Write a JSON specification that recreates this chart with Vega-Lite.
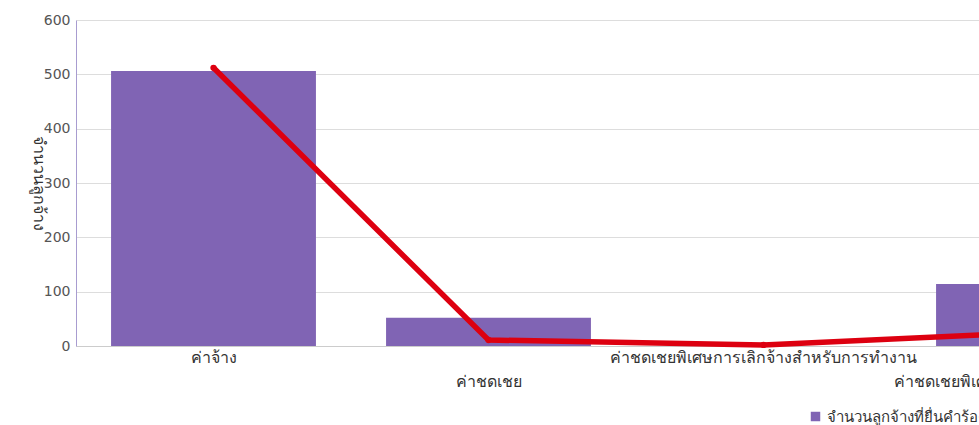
{
  "$schema": "https://vega.github.io/schema/vega-lite/v6.json",
  "autosize": {"type": "none"},
  "width": 903,
  "height": 326,
  "padding": {"left": 76, "top": 20, "right": 0, "bottom": 79},
  "background": "white",
  "config": {
    "view": {"stroke": null},
    "font": "DejaVu Sans"
  },
  "data": {
    "values": [
      {"category": "ค่าจ้าง", "series": "จำนวนลูกจ้างที่ยื่นคำร้อง", "employees": 506, "amount": 512},
      {"category": "ค่าชดเชย", "series": "จำนวนลูกจ้างที่ยื่นคำร้อง", "employees": 52, "amount": 11},
      {"category": "ค่าชดเชยพิเศษการเลิกจ้างสำหรับการทำงาน", "series": "จำนวนลูกจ้างที่ยื่นคำร้อง", "employees": 0, "amount": 2},
      {"category": "ค่าชดเชยพิเศษแทนการบอกกล่าวล่วงหน้า", "series": "จำนวนลูกจ้างที่ยื่นคำร้อง", "employees": 114, "amount": 25}
    ]
  },
  "encoding": {
    "x": {
      "field": "category",
      "type": "nominal",
      "sort": null,
      "scale": {"range": [0, 1100], "paddingInner": 0.255, "paddingOuter": 0.1275},
      "axis": {
        "title": null,
        "labelAngle": 0,
        "labelLimit": 0,
        "labelOverlap": false,
        "labelBaseline": "top",
        "labelPadding": 3,
        "labelFontSize": 16,
        "labelColor": "#333",
        "labelLineHeight": 24,
        "labelExpr": "(datum.value == 'ค่าชดเชย' || datum.value == 'ค่าชดเชยพิเศษแทนการบอกกล่าวล่วงหน้า') ? ['', datum.label] : datum.label",
        "ticks": false,
        "domainColor": "#cccccc",
        "grid": false
      }
    }
  },
  "layer": [
    {
      "mark": {"type": "bar", "color": "#8064b4"},
      "encoding": {
        "y": {
          "field": "employees",
          "type": "quantitative",
          "scale": {"domain": [0, 600]},
          "axis": {
            "title": "จำนวนลูกจ้าง",
            "titleAngle": 90,
            "titleFontSize": 16,
            "titleFontWeight": "normal",
            "titleColor": "#333",
            "titleX": -46,
            "values": [0, 100, 200, 300, 400, 500, 600],
            "labelFontSize": 14,
            "labelColor": "#555",
            "labelPadding": 6,
            "ticks": false,
            "domainColor": "#a89cd0",
            "gridColor": "#dddddd"
          }
        },
        "color": {
          "field": "series",
          "type": "nominal",
          "scale": {"range": ["#8064b4"]},
          "legend": {
            "title": null,
            "orient": "none",
            "legendX": 732,
            "legendY": 389,
            "symbolType": "square",
            "symbolSize": 90,
            "symbolStrokeWidth": 0,
            "labelFontSize": 15,
            "labelColor": "#333"
          }
        }
      }
    },
    {
      "mark": {"type": "line", "color": "#dd0010", "strokeWidth": 5.5, "point": {"color": "#dd0010", "size": 40}},
      "encoding": {
        "y": {"field": "amount", "type": "quantitative"}
      }
    }
  ]
}
